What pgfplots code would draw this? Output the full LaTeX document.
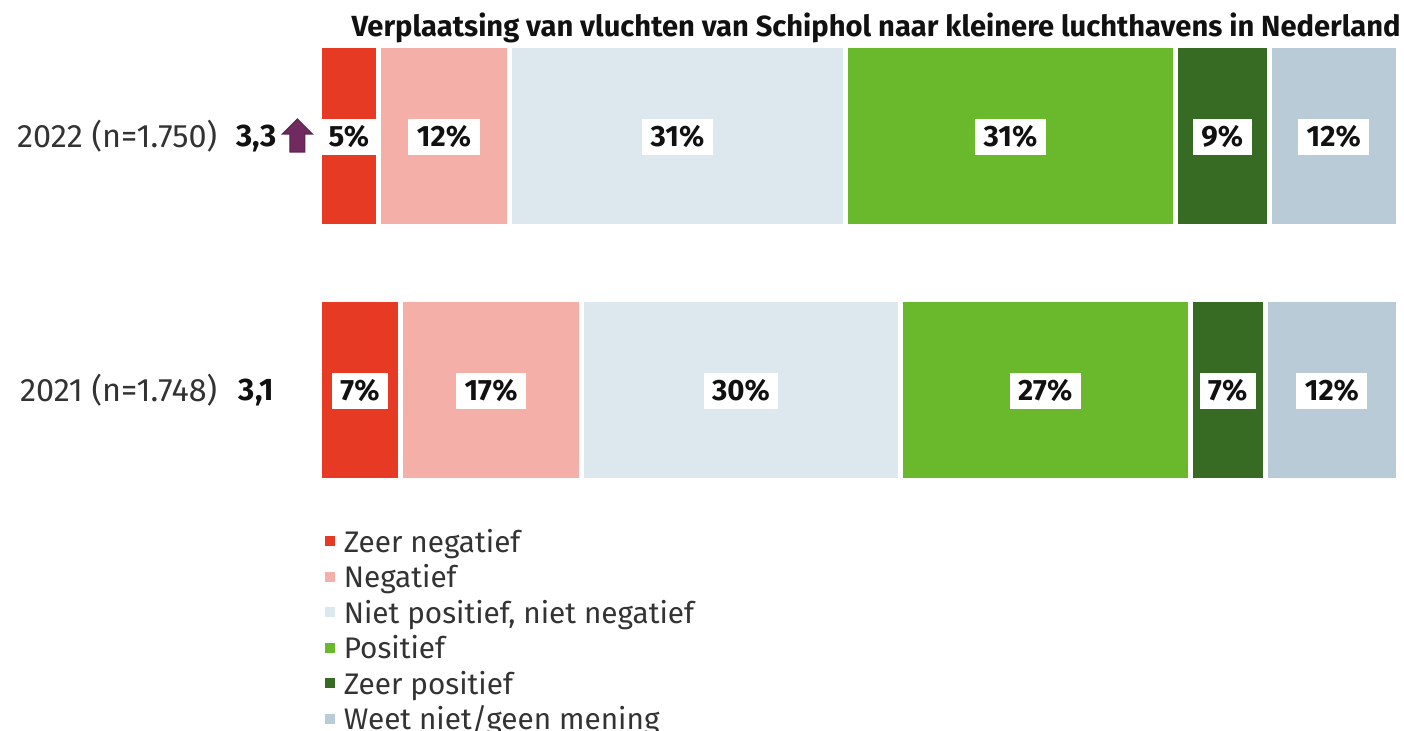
\documentclass[border=0pt]{standalone}
\usepackage{pgfplots}
\pgfplotsset{compat=1.18}
\usepackage{fontspec}
\setmainfont{Fira Sans}
\definecolor{zneg}{HTML}{E63A25}
\definecolor{neg}{HTML}{F5AFA9}
\definecolor{neut}{HTML}{DCE8EE}
\definecolor{pos}{HTML}{6AB92C}
\definecolor{zpos}{HTML}{376B24}
\definecolor{wn}{HTML}{B8CBD7}
\definecolor{txt}{HTML}{333333}
\definecolor{blk}{HTML}{111111}
\definecolor{arrowfill}{HTML}{702A5F}
\definecolor{arrowline}{HTML}{5C2450}
\pgfdeclareplotmark{uparrow}{%
  \pgfpathmoveto{\pgfqpoint{0pt}{8.5pt}}%
  \pgfpathlineto{\pgfqpoint{7.5pt}{1pt}}%
  \pgfpathlineto{\pgfqpoint{3.75pt}{1pt}}%
  \pgfpathlineto{\pgfqpoint{3.75pt}{-8pt}}%
  \pgfpathlineto{\pgfqpoint{-3.75pt}{-8pt}}%
  \pgfpathlineto{\pgfqpoint{-3.75pt}{1pt}}%
  \pgfpathlineto{\pgfqpoint{-7.5pt}{1pt}}%
  \pgfpathclose
  \pgfusepathqfillstroke}
\pgfplotsset{
  common/.style={
    at={(159.75pt,126.5pt)},anchor=south west,
    scale only axis,width=539.5pt,height=215pt,
    xmin=0,xmax=100,ymin=-0.3465,ymax=1.3465,clip=false,
  },
  lab/.style={only marks,mark=none,point meta=explicit symbolic,nodes near coords,
    nodes near coords style={anchor=center,font=\fontsize{14.7}{15}\selectfont\bfseries,text=blk,
      fill=white,inner xsep=4.25pt,inner ysep=0pt,minimum height=18pt,yshift=-0.5pt}},
  val/.style={only marks,mark=none,point meta=explicit symbolic,nodes near coords,
    nodes near coords style={anchor=center,font=\fontsize{15.6}{16}\selectfont\bfseries,text=blk,inner sep=0pt,yshift=-1.25pt}},
}
\begin{document}
\begin{tikzpicture}
\path[use as bounding box] (0,0) rectangle (702pt,365.5pt);
\begin{axis}[common,
  xbar stacked,bar width=90.5pt,
  axis line style={draw=none},tick style={draw=none},
  xtick=\empty,ytick={0,1},
  yticklabels={2021 (n=1.748),2022 (n=1.750)},
  yticklabel style={font=\fontsize{16.2}{17}\selectfont,text=txt,inner sep=0pt,xshift=-51pt,anchor=east},
  title={Verplaatsing van vluchten van Schiphol naar kleinere luchthavens in Nederland},
  title style={at={(1.0024,0.998)},anchor=base east,inner sep=0pt,font=\fontsize{14.57}{15}\selectfont\bfseries,text=blk},
  legend cell align=left,
  legend style={at={(0.005,-0.125)},anchor=north west,draw=none,fill=none,inner sep=0pt,
    row sep=4.75pt,font=\fontsize{14.87}{16}\selectfont,text=txt,
    nodes={inner sep=0pt,text height=10pt,text depth=3pt}},
  legend image code/.code={\path[#1,draw=none] (0pt,-0.5pt) rectangle (5pt,4.5pt);\path (8pt,0pt);},
  every axis plot/.append style={draw=white,line width=2.5pt},
]
\addplot[fill=zneg] coordinates {(7.51,0) (5.47,1)};
\addplot[fill=neg]  coordinates {(16.77,0) (12.14,1)};
\addplot[fill=neut] coordinates {(29.57,0) (31.14,1)};
\addplot[fill=pos]  coordinates {(26.83,0) (30.58,1)};
\addplot[fill=zpos] coordinates {(6.99,0) (8.67,1)};
\addplot[fill=wn]   coordinates {(12.33,0) (12.00,1)};
\legend{Zeer negatief,Negatief,{Niet positief, niet negatief},Positief,Zeer positief,Weet niet/geen mening}
\end{axis}
\begin{axis}[common,hide axis]
\addplot[lab] coordinates {
 (2.73,1)[5\%] (11.54,1)[12\%] (33.18,1)[31\%] (64.04,1)[31\%] (83.67,1)[9\%] (94.0,1)[12\%]
 (3.75,0)[7\%] (15.9,0)[17\%] (39.07,0)[30\%] (67.27,0)[27\%] (84.17,0)[7\%] (93.83,0)[12\%]};
\addplot[val] coordinates {(-5.85,1)[3,3] (-5.85,0)[3,1]};
\addplot[only marks,mark=uparrow,mark size=1pt,mark options={fill=arrowfill,draw=arrowline,line width=0.6pt}] coordinates {(-2.05,1)};
\end{axis}
\end{tikzpicture}
\end{document}
